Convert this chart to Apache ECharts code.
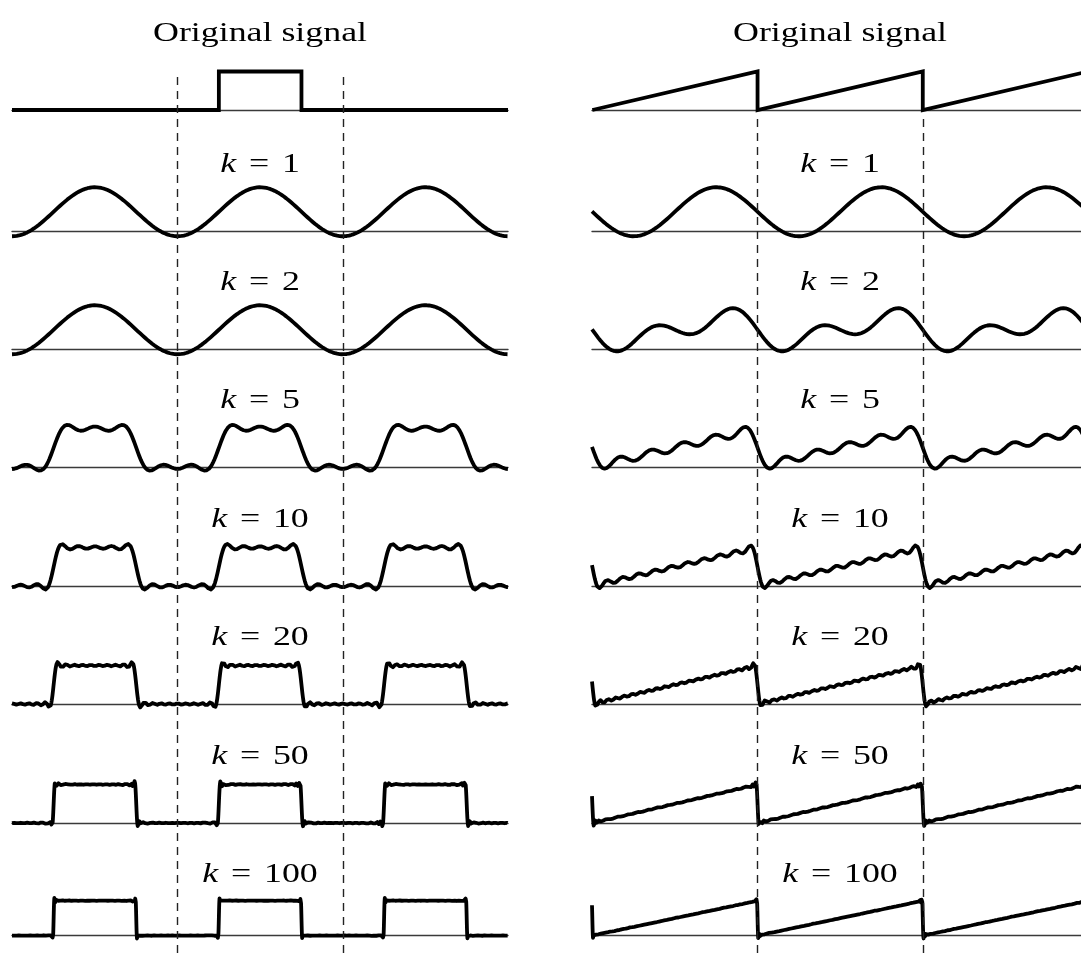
<!DOCTYPE html>
<html>
<head>
<meta charset="utf-8">
<style>
  html, body { margin: 0; padding: 0; background: #fff; overflow: hidden; }
  #main { width: 1100px; height: 953px; }
</style>
<script src="https://cdn.jsdelivr.net/npm/echarts@6/dist/echarts.min.js"></script>
</head>
<body>
<div id="main"></div>
<script>
// ---- data ----
const kValues = [1, 2, 5, 10, 20, 50, 100];   // number of harmonics kept
const pulseEdges = [1.25, 1.75];             // square pulse (middle period only)
const rampStarts = [0, 1, 2];                // sawtooth: one ramp per period
const dividers = [1, 2];                     // dashed period boundaries
const xRange = [-0.002, 3];                  // three periods shown
const columnTitle = 'Original signal';

// ---- partial Fourier sums of the two signals ----
function squareSum(x, k) {
  let y = 0.5;
  for (let n = 1; n <= k; n++) {
    y += (2 / (n * Math.PI)) * Math.sin(n * Math.PI / 2) * Math.cos(2 * Math.PI * n * (x - 0.5));
  }
  return y;
}
function sawSum(x, k) {
  let y = 0.5;
  for (let n = 1; n <= k; n++) {
    const w = n === k ? 2 : 1;
    y -= w * Math.sin(2 * Math.PI * n * x) / (n * Math.PI);
  }
  return y;
}
function sample(fn, k) {
  const N = 5000, out = [];
  for (let i = 0; i <= N; i++) {
    const x = xRange[0] + (xRange[1] - xRange[0]) * i / N;
    out.push([x, fn(x, k)]);
  }
  return out;
}

const squareOriginal = [[xRange[0], 0], [pulseEdges[0], 0], [pulseEdges[0], 1],
  [pulseEdges[1], 1], [pulseEdges[1], 0], [xRange[1], 0]];
const sawOriginal = [];
rampStarts.forEach(s => {
  sawOriginal.push([s, 0], [s + 1, 1]);
  if (s + 1 < xRange[1]) sawOriginal.push([s + 1, 0]);
});

// ---- layout ----
const baselines = [110, 231, 349, 467, 586, 704, 823, 941];
const colLeft = [12, 592];
const colCenter = [260, 840];
const colWidth = 496;
const unit = 38.5;
const serif = "'Liberation Serif', 'Times New Roman', serif";

const grids = [], xAxes = [], yAxes = [], series = [], graphics = [];

function addPanel(col, row, data, smooth) {
  const idx = grids.length;
  grids.push({ left: colLeft[col], width: colWidth, top: baselines[row] - 1.5 * unit, height: 2 * unit });
  xAxes.push({
    gridIndex: idx, type: 'value', min: xRange[0], max: xRange[1],
    axisLine: { show: true, onZero: true, lineStyle: { color: '#3a3a3a', width: 1.4 } },
    axisTick: { show: false }, axisLabel: { show: false }, splitLine: { show: false }
  });
  yAxes.push({ gridIndex: idx, type: 'value', min: -0.5, max: 1.5, show: false });
  series.push({
    type: 'line', xAxisIndex: idx, yAxisIndex: idx, data: data,
    showSymbol: false, symbol: 'none', sampling: 'none', silent: true, animation: false,
    lineStyle: { color: '#000', width: 3.8, join: smooth ? 'round' : 'miter' },
    z: 3
  });
}

function addLabel(cx, y, text) {
  graphics.push({
    type: 'text', x: cx, y: y, scaleX: 1.28, silent: true,
    style: {
      text: text, fill: '#000', fontSize: 28, fontFamily: serif,
      align: 'center', verticalAlign: 'middle',
      rich: {
        i: { fontSize: 28, fontFamily: serif, fontStyle: 'italic', fill: '#000' },
        e: { fontSize: 28, fontFamily: serif, fill: '#000', padding: [0, 3] }
      }
    }
  });
}

[0, 1].forEach(col => {
  addPanel(col, 0, col === 0 ? squareOriginal : sawOriginal, false);
  addLabel(colCenter[col], baselines[0] - 67 - 9.5, columnTitle);
  kValues.forEach((k, i) => {
    addPanel(col, i + 1, sample(col === 0 ? squareSum : sawSum, k), true);
    addLabel(colCenter[col], baselines[i + 1] - 57 - 9.5, '{i|k} {e|=} ' + k);
  });
  // full-height grid carrying the dashed period boundaries
  const idx = grids.length;
  const top = col === 0 ? 72 : 113;
  grids.push({ left: colLeft[col], width: colWidth, top: top, height: 953 - top });
  xAxes.push({ gridIndex: idx, type: 'value', min: xRange[0], max: xRange[1], show: false });
  yAxes.push({ gridIndex: idx, type: 'value', min: 0, max: 1, show: false });
  series.push({
    type: 'line', xAxisIndex: idx, yAxisIndex: idx, data: [],
    showSymbol: false, silent: true, animation: false,
    markLine: {
      silent: true, symbol: 'none', animation: false,
      label: { show: false },
      lineStyle: { color: '#222', width: 1.4, type: [8, 6] },
      data: dividers.map(d => ({ xAxis: d }))
    },
    z: 1
  });
});

const chart = echarts.init(document.getElementById('main'));
chart.setOption({
  backgroundColor: '#fff',
  animation: false,
  grid: grids,
  xAxis: xAxes,
  yAxis: yAxes,
  series: series,
  graphic: graphics
});
</script>
</body>
</html>
